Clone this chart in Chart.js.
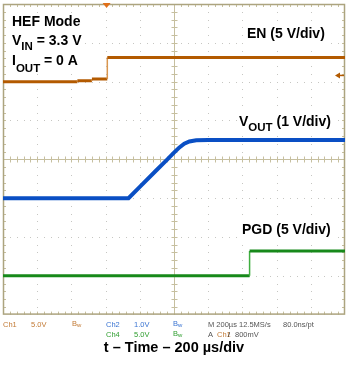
<!DOCTYPE html>
<html>
<head>
<meta charset="utf-8">
<script src="https://cdn.jsdelivr.net/npm/chart.js@4/dist/chart.umd.min.js"></script>
<style>
  html, body { margin: 0; padding: 0; background: #fff; }
  #wrap { width: 350px; height: 365px; }
</style>
</head>
<body>
<div id="wrap"><canvas id="scope" width="350" height="365"></canvas></div>
<script>
// Time axis, µs relative to the EN edge (200 µs/div, 10 div)
const timeTicks = [-600, -400, -200, 0, 200, 400, 600, 800, 1000, 1200, 1400];
// Vertical axis in graticule divisions (8 div)
const divTicks = [-4, -3, -2, -1, 0, 1, 2, 3, 4];

// EN (Ch1, 5 V/div)
const enTime  = [-600, -165, -165, -80, -80, 10, 10, 1400];
const enVolts = [0, 0, 0.13, 0.13, 0.35, 0.35, 3.1, 3.1];

// VOUT (Ch2, 1 V/div)
const voutTime  = [-600, 134, 200, 300, 357, 400, 430, 460, 490, 530, 600, 1400];
const voutVolts = [0, 0, 0.29, 0.73, 0.98, 1.17, 1.3, 1.4, 1.46, 1.49, 1.5, 1.5];

// PGD (Ch4, 5 V/div)
const pgdTime  = [-600, 842, 842, 1400];
const pgdVolts = [0, 0, 3.2, 3.2];

// Channel vertical settings: volts per division and ground marker position (div)
const chEN   = { voltsPerDiv: 5, groundDiv: 2 };
const chVOUT = { voltsPerDiv: 1, groundDiv: -1 };
const chPGD  = { voltsPerDiv: 5, groundDiv: -3 };
const triggerLevel = 0.8; // V on Ch1

const COL_EN = '#b35a00';
const COL_VOUT = '#0a4fc4';
const COL_PGD = '#17891a';
const FONT = "'Liberation Sans', Arial, sans-serif";

function toPoints(time, volts, ch) {
  return time.map((t, i) => ({ x: t, y: ch.groundDiv + volts[i] / ch.voltsPerDiv }));
}

// Vertical edges of a trace are drawn thinner and lighter, like a fast transition
function edgeStyle(width, color, edgeColor) {
  return {
    borderWidth: c => (c.p0.parsed.x === c.p1.parsed.x ? 1.5 : width),
    borderColor: c => (c.p0.parsed.x === c.p1.parsed.x ? edgeColor : color)
  };
}

// Oscilloscope graticule: border, dotted grid, centre cross with minor ticks
const graticule = {
  id: 'graticule',
  beforeDatasetsDraw(chart) {
    const { ctx, chartArea: a, scales: { x, y } } = chart;
    const minorT = (timeTicks[1] - timeTicks[0]) / 5;
    const minorD = (divTicks[1] - divTicks[0]) / 5;
    const xc = (x.min + x.max) / 2, yc = (y.min + y.max) / 2;
    ctx.save();

    // dotted division lines
    ctx.fillStyle = '#c6c6c2';
    timeTicks.forEach(t => {
      if (t === x.min || t === x.max || t === xc) return;
      const px = Math.round(x.getPixelForValue(t));
      for (let d = y.min + minorD; d < y.max - 1e-6; d += minorD) {
        ctx.fillRect(px, Math.round(y.getPixelForValue(d)), 1, 1);
      }
    });
    divTicks.forEach(d => {
      if (d === y.min || d === y.max || d === yc) return;
      const py = Math.round(y.getPixelForValue(d));
      for (let t = x.min + minorT; t < x.max - 1e-6; t += minorT) {
        ctx.fillRect(Math.round(x.getPixelForValue(t)), py, 1, 1);
      }
    });

    // centre cross with minor ticks
    ctx.strokeStyle = '#c6bf9f';
    ctx.lineWidth = 1;
    const cx = Math.round(x.getPixelForValue(xc)) + 0.5;
    const cy = Math.round(y.getPixelForValue(yc)) + 0.5;
    ctx.beginPath();
    ctx.moveTo(a.left, cy); ctx.lineTo(a.right, cy);
    ctx.moveTo(cx, a.top); ctx.lineTo(cx, a.bottom);
    for (let t = x.min + minorT; t < x.max - 1e-6; t += minorT) {
      const px = Math.round(x.getPixelForValue(t)) + 0.5;
      ctx.moveTo(px, cy - 3); ctx.lineTo(px, cy + 3);
      ctx.moveTo(px, a.top); ctx.lineTo(px, a.top + 3);
      ctx.moveTo(px, a.bottom); ctx.lineTo(px, a.bottom - 3);
    }
    for (let d = y.min + minorD; d < y.max - 1e-6; d += minorD) {
      const py = Math.round(y.getPixelForValue(d)) + 0.5;
      ctx.moveTo(cx - 3, py); ctx.lineTo(cx + 3, py);
      ctx.moveTo(a.left, py); ctx.lineTo(a.left + 3, py);
      ctx.moveTo(a.right, py); ctx.lineTo(a.right - 3, py);
    }
    ctx.stroke();

    // outer border
    ctx.strokeStyle = '#aca47f';
    ctx.lineWidth = 1.5;
    ctx.strokeRect(a.left + 0.5, a.top + 0.5, a.right - a.left - 1, a.bottom - a.top - 1);
    ctx.restore();
  }
};

function runs(ctx, x, base, parts, bg) {
  let cx = x;
  const widths = parts.map(p => { ctx.font = p[1]; return ctx.measureText(p[0]).width; });
  if (bg) {
    const w = widths.reduce((s, v) => s + v, 0);
    ctx.fillStyle = '#fff';
    ctx.fillRect(x - 2, base - 13, w + 4, 20);
  }
  parts.forEach((p, i) => {
    ctx.font = p[1];
    ctx.fillStyle = p[3] || '#000';
    ctx.fillText(p[0], cx, base + (p[2] || 0));
    cx += widths[i];
  });
}

// Trace labels, trigger markers and the scope status line
const annotations = {
  id: 'annotations',
  afterDatasetsDraw(chart) {
    const { ctx, chartArea: a, scales: { x, y } } = chart;
    ctx.save();
    ctx.textBaseline = 'alphabetic';
    const B14 = 'bold 14px ' + FONT;
    const B11 = 'bold 11.5px ' + FONT;

    runs(ctx, 12, 26, [['HEF Mode', B14]], true);
    runs(ctx, 12, 45, [['V', B14], ['IN', B11, 5], [' = 3.3 V', B14]], true);
    runs(ctx, 12, 65, [['I', B14], ['OUT', B11, 6.5], [' = 0 A', B14]], true);
    runs(ctx, 247, 38, [['EN (5 V/div)', B14]], true);
    runs(ctx, 239, 126, [['V', B14], ['OUT', B11, 5], [' (1 V/div)', B14]], true);
    runs(ctx, 242, 234, [['PGD (5 V/div)', B14]], true);

    // trigger position marker
    const tx = x.getPixelForValue(0) + 1;
    ctx.fillStyle = '#e0701a';
    ctx.beginPath();
    ctx.moveTo(tx - 4, a.top - 1); ctx.lineTo(tx + 4, a.top - 1); ctx.lineTo(tx, a.top + 4);
    ctx.closePath(); ctx.fill();

    // trigger level arrow on the right edge
    const ty = y.getPixelForValue(chEN.groundDiv + triggerLevel / chEN.voltsPerDiv);
    ctx.strokeStyle = COL_EN; ctx.fillStyle = COL_EN; ctx.lineWidth = 1.5;
    ctx.beginPath(); ctx.moveTo(a.right - 8, ty); ctx.lineTo(a.right - 1, ty); ctx.stroke();
    ctx.beginPath();
    ctx.moveTo(a.right - 10, ty); ctx.lineTo(a.right - 5, ty - 3); ctx.lineTo(a.right - 5, ty + 3);
    ctx.closePath(); ctx.fill();

    // status line
    const S = '7.5px ' + FONT, Ss = '6px ' + FONT;
    const orange = '#c27a35', blue = '#3a74d2', green = '#2f9e2f', grey = '#555';
    runs(ctx, 3, 327, [['Ch1', S, 0, orange]]);
    runs(ctx, 31, 327, [['5.0V', S, 0, orange]]);
    runs(ctx, 72, 326, [['B', S, 0, orange], ['w', Ss, 1, orange]]);
    runs(ctx, 106, 327, [['Ch2', S, 0, blue]]);
    runs(ctx, 134, 327, [['1.0V', S, 0, blue]]);
    runs(ctx, 173, 326, [['B', S, 0, blue], ['w', Ss, 1, blue]]);
    runs(ctx, 208, 327, [['M 200µs 12.5MS/s', S, 0, grey]]);
    runs(ctx, 283, 327, [['80.0ns/pt', S, 0, grey]]);
    runs(ctx, 106, 336.5, [['Ch4', S, 0, green]]);
    runs(ctx, 134, 336.5, [['5.0V', S, 0, green]]);
    runs(ctx, 173, 335.5, [['B', S, 0, green], ['w', Ss, 1, green]]);
    runs(ctx, 208, 336.5, [['A', S, 0, grey]]);
    runs(ctx, 217, 336.5, [['Ch1', S, 0, orange]]);
    runs(ctx, 228, 336.5, [['/', S, 0, '#222']]);
    runs(ctx, 235, 336.5, [['800mV', S, 0, grey]]);
    ctx.restore();
  }
};

new Chart(document.getElementById('scope'), {
  type: 'line',
  data: {
    datasets: [
      { label: 'EN', data: toPoints(enTime, enVolts, chEN), borderColor: COL_EN, borderWidth: 3,
        segment: edgeStyle(3, COL_EN, '#d9964f') },
      { label: 'VOUT', data: toPoints(voutTime, voutVolts, chVOUT), borderColor: COL_VOUT, borderWidth: 4 },
      { label: 'PGD', data: toPoints(pgdTime, pgdVolts, chPGD), borderColor: COL_PGD, borderWidth: 3,
        segment: edgeStyle(3, COL_PGD, '#3fae3f') }
    ]
  },
  options: {
    responsive: false,
    devicePixelRatio: 1,
    animation: false,
    layout: { padding: { left: 3, right: 5, top: 4, bottom: 0 } },
    elements: { point: { radius: 0 }, line: { tension: 0, fill: false } },
    scales: {
      x: { type: 'linear', min: timeTicks[0], max: timeTicks[timeTicks.length - 1], display: false },
      y: { type: 'linear', min: divTicks[0], max: divTicks[divTicks.length - 1], display: false }
    },
    plugins: {
      legend: { display: false },
      tooltip: { enabled: false },
      title: {
        display: true,
        position: 'bottom',
        text: 't – Time – 200 µs/div',
        color: '#000',
        font: { family: FONT, size: 14.5, weight: 'bold' },
        padding: { top: 25, bottom: 8 }
      }
    }
  },
  plugins: [graticule, annotations]
});
</script>
</body>
</html>
